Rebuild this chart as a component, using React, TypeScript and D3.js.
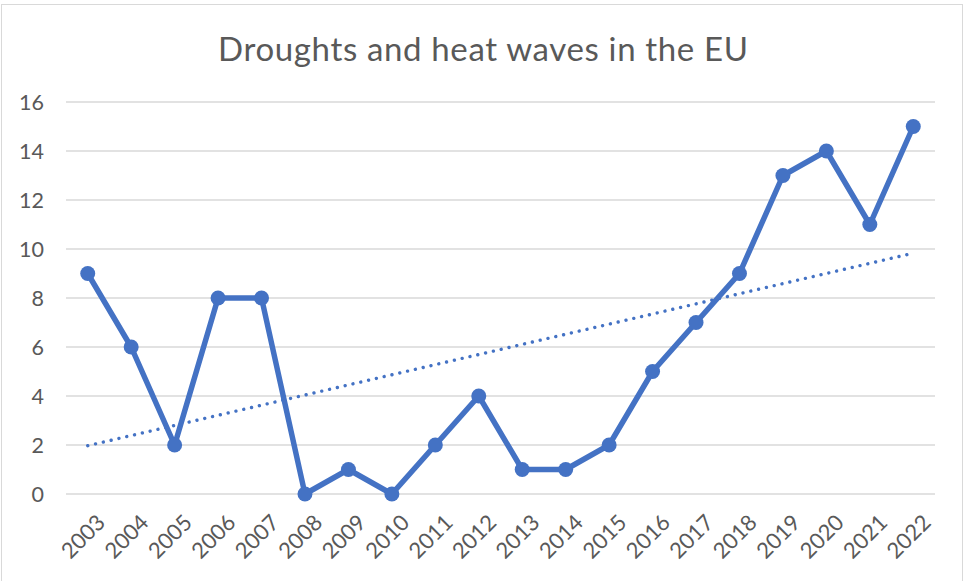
import React from "react";
import * as d3 from "d3";

const years = ["2003","2004","2005","2006","2007","2008","2009","2010","2011","2012","2013","2014","2015","2016","2017","2018","2019","2020","2021","2022"];
const values = [9,6,2,8,8,0,1,0,2,4,1,1,2,5,7,9,13,14,11,15];
const yTicks = [0,2,4,6,8,10,12,14,16];
const title = "Droughts and heat waves in the EU";

const W = 965, H = 581;
const plot = { left: 66, right: 935, top: 102, bottom: 494 };
const BLUE = "#4472C4";
const TEXT = "#595959";
const FONT = "Lato, 'Open Sans', sans-serif";

export default function App() {
  const x = d3.scaleBand<string>().domain(years).range([plot.left, plot.right]);
  const cx = (y: string) => (x(y) as number) + x.bandwidth() / 2;
  const y = d3.scaleLinear().domain([0, 16]).range([plot.bottom, plot.top]);

  const line = d3.line<number>().x((_, i) => cx(years[i])).y((d) => y(d));

  // linear trendline (least squares)
  const n = values.length;
  const mx = d3.mean(values.map((_, i) => i)) as number;
  const my = d3.mean(values) as number;
  let sxy = 0, sxx = 0;
  values.forEach((v, i) => { sxy += (i - mx) * (v - my); sxx += (i - mx) * (i - mx); });
  const slope = sxy / sxx;
  const icpt = my - slope * mx;
  const t0 = icpt, t1 = icpt + slope * (n - 1);

  return (
    <svg width={W} height={H} style={{ position: "absolute", left: 0, top: 0, background: "#fff" }}>
      <rect x={1.5} y={4.5} width={961} height={H + 10} fill="#fff" stroke="#d9d9d9" strokeWidth={1} />
      <text x={218} y={61} textLength={530} lengthAdjust="spacing" fontFamily={FONT} fontSize={33} fill={TEXT}>{title}</text>
      {yTicks.map((t) => (
        <g key={t}>
          <line x1={plot.left} x2={plot.right} y1={y(t)} y2={y(t)} stroke="#d9d9d9" strokeWidth={1.3} />
          <text x={44} y={y(t)} dy="0.35em" textAnchor="end" fontFamily={FONT} fontSize={21.5} fill={TEXT}>{t}</text>
        </g>
      ))}
      {years.map((yr) => (
        <text key={yr} transform={`translate(${cx(yr) + 8},${plot.bottom + 19}) rotate(-45)`} textAnchor="end" dy="0.7em"
          fontFamily={FONT} fontSize={22} fill={TEXT}>{yr}</text>
      ))}
      <line x1={cx(years[0])} x2={cx(years[n - 1])} y1={y(t0)} y2={y(t1)} stroke={BLUE} strokeWidth={3.4}
        strokeDasharray="0.01 8" strokeLinecap="round" />
      <path d={line(values) as string} fill="none" stroke={BLUE} strokeWidth={5.5} strokeLinejoin="round" />
      {values.map((v, i) => (
        <circle key={i} cx={cx(years[i])} cy={y(v)} r={7.5} fill={BLUE} />
      ))}
    </svg>
  );
}
